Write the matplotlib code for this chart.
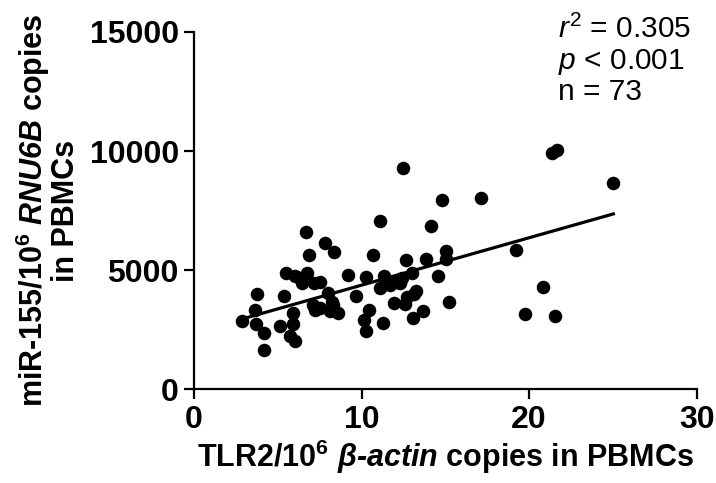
import numpy as np
import matplotlib
matplotlib.use("Agg")
import matplotlib.pyplot as plt

plt.rcParams["font.family"] = ["Liberation Sans", "DejaVu Sans"]
plt.rcParams["mathtext.fontset"] = "custom"
plt.rcParams["mathtext.rm"] = "Liberation Sans"
plt.rcParams["mathtext.it"] = "Liberation Sans:italic"
plt.rcParams["mathtext.bf"] = "Liberation Sans:bold"
plt.rcParams["mathtext.bfit"] = "Liberation Sans:bold:italic"

# TLR2 copies (x) vs miR-155 copies (y)
tlr2 = [2.89, 3.63, 3.77, 3.69, 4.19, 4.19, 5.13, 5.37, 5.73, 6.03,
        5.93, 5.93, 5.49, 6.03, 6.43, 6.77, 6.67, 6.87, 7.17, 7.13,
        7.23, 7.53, 7.83, 8.37, 8.02, 8.22, 8.12, 8.62, 9.16, 9.68,
        10.12, 10.28, 10.42, 10.28, 10.66, 11.12, 11.28, 11.32, 11.12, 11.72,
        11.92, 12.48, 12.42, 12.68, 12.72, 12.62, 13.01, 13.22, 13.08, 13.65,
        13.83, 14.13, 14.57, 14.81, 15.01, 15.01, 15.21, 17.13, 19.2, 20.84,
        19.74, 21.56, 21.36, 21.64, 25.03, 6.3, 7.5, 11.6, 12.1, 12.3,
        7.3, 8.3, 13.1]
mir155 = [2846, 3333, 4000, 2736, 2361, 1667, 2639, 3917, 2222, 2042,
          2750, 3194, 4861, 4764, 4444, 4861, 6597, 5653, 4444, 3542,
          3333, 3403, 6153, 5778, 4028, 3681, 3292, 3222, 4792, 3931,
          2917, 2458, 3333, 4694, 5625, 7056, 2778, 4764, 4236, 4375,
          3611, 9306, 4653, 5417, 3889, 3583, 4861, 4139, 2986, 3306,
          5486, 6847, 4764, 7944, 5806, 5486, 3653, 8028, 5833, 4306,
          3153, 3097, 9931, 10042, 8639, 4650, 4500, 4550, 4500, 4450,
          3400, 3550, 4000]

fit_slope = 199.0
fit_intercept = 2380.0
stats_lines = [r"$r^2$ = 0.305", r"$p$ < 0.001", "n = 73"]

fig = plt.figure(figsize=(7.16, 4.83), dpi=100)
ax = fig.add_axes([0.271, 0.194, 0.702, 0.740])

ax.scatter(tlr2, mir155, s=95, color="black", linewidths=0, zorder=3)
xl = np.array([min(tlr2), max(tlr2)])
ax.plot(xl, fit_intercept + fit_slope * xl, color="black", lw=2.3, zorder=2)

ax.set_xlim(0, 30)
ax.set_ylim(0, 15000)
ax.set_xticks([0, 10, 20, 30])
ax.set_yticks([0, 5000, 10000, 15000])
for s in ["top", "right"]:
    ax.spines[s].set_visible(False)
for s in ["left", "bottom"]:
    ax.spines[s].set_linewidth(1.6)
ax.tick_params(direction="out", length=7, width=1.6, pad=4, labelsize=23)
for lab in ax.get_xticklabels() + ax.get_yticklabels():
    lab.set_fontweight("bold")

ax.set_xlabel("TLR2/10$^{\\mathbf{6}}$ $\\mathbfit{\u03b2\u2010actin}$ copies in PBMCs",
              fontsize=22, fontweight="bold", labelpad=2)
ax.set_ylabel("miR-155/10$^{\\mathbf{6}}$ $\\mathbfit{RNU6B}$ copies\nin PBMCs",
              fontsize=22, fontweight="bold", labelpad=6, linespacing=0.95)

for i, txt in enumerate(stats_lines):
    fig.text(558 / 716, 1 - (38 + 31 * i) / 483, txt, fontsize=21.5, va="baseline", ha="left")

fig.savefig("out.png", dpi=100)
